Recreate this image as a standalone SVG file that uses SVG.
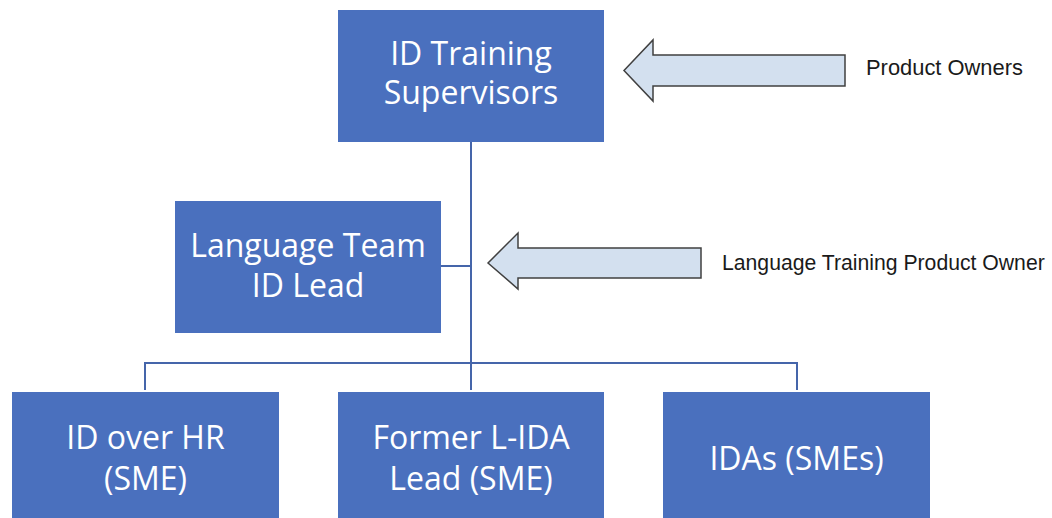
<svg xmlns="http://www.w3.org/2000/svg" width="1052" height="518" viewBox="0 0 1052 518">
<style>
.box{fill:#4A70BE;}
.bt{fill:#ffffff;font-family:"Open Sans","Liberation Sans",sans-serif;font-size:32px;text-anchor:middle;}
.lbl{fill:#1a1a1a;font-family:"Liberation Sans",Arial,sans-serif;font-size:21.9px;}
.lbl2{font-size:21.2px;}
.con{stroke:#4565AA;stroke-width:2;fill:none;}
.arr{fill:#D3E0EF;stroke:#404040;stroke-width:1.5;stroke-linejoin:miter;}
</style>
<rect width="1052" height="518" fill="#ffffff"/>
<g id="connectors">
<line class="con" x1="471" y1="142" x2="471" y2="390"/>
<line class="con" x1="441" y1="266" x2="471" y2="266"/>
<polyline class="con" points="145,390 145,363 797,363 797,390"/>
</g>
<g id="node-supervisors">
<rect class="box" x="338" y="10" width="266" height="132"/>
<text class="bt" x="471" y="65">ID Training</text>
<text class="bt" x="471" y="104">Supervisors</text>
</g>
<g id="node-language-lead">
<rect class="box" x="175" y="201" width="266" height="132"/>
<text class="bt" x="308" y="257">Language Team</text>
<text class="bt" x="308" y="297">ID Lead</text>
</g>
<g id="node-id-over-hr">
<rect class="box" x="12" y="392" width="267" height="132"/>
<text class="bt" x="145.5" y="449">ID over HR</text>
<text class="bt" x="145.5" y="490">(SME)</text>
</g>
<g id="node-former-lida">
<rect class="box" x="338" y="392" width="266" height="132"/>
<text class="bt" x="471" y="449">Former L-IDA</text>
<text class="bt" x="471" y="490">Lead (SME)</text>
</g>
<g id="node-idas">
<rect class="box" x="663" y="392" width="267" height="132"/>
<text class="bt" x="796.5" y="470">IDAs (SMEs)</text>
</g>
<g id="arrow-product-owners">
<polygon class="arr" points="624,70.5 653,40 653,55 845,55 845,86 653,86 653,101"/>
<text class="lbl" x="866" y="75">Product Owners</text>
</g>
<g id="arrow-language-owner">
<polygon class="arr" points="488,263 518,233 518,248 701,248 701,278 518,278 518,289"/>
<text class="lbl lbl2" x="722" y="270">Language Training Product Owner</text>
</g>
</svg>
